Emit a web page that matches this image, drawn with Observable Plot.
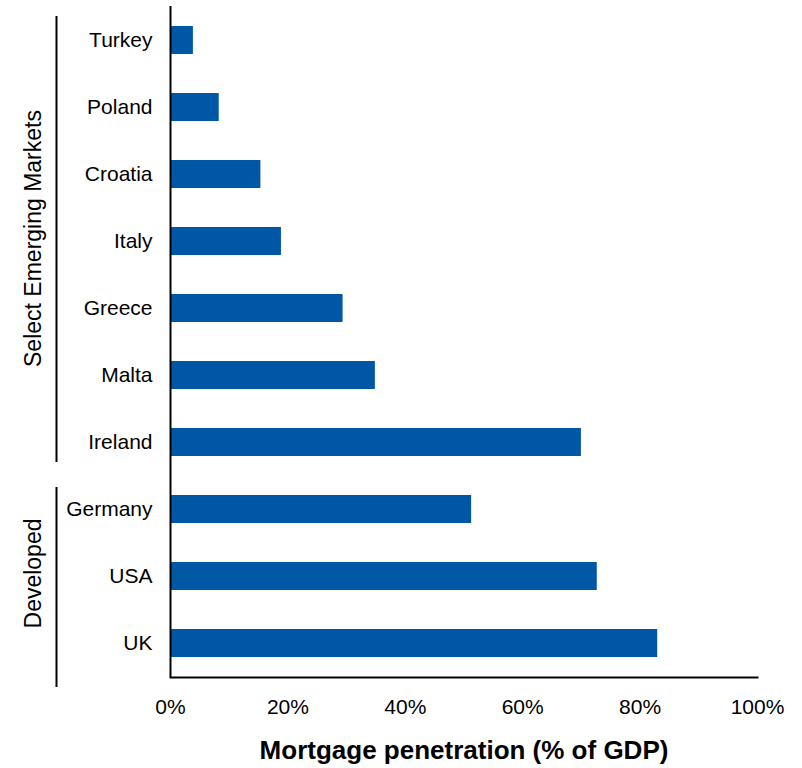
<!DOCTYPE html>
<html>
<head>
<meta charset="utf-8">
<script src="https://cdn.jsdelivr.net/npm/d3@7"></script>
<script src="https://cdn.jsdelivr.net/npm/@observablehq/plot@0.6"></script>
<style>
  body { margin: 0; background: #fff; }
  #chart { width: 802px; }
</style>
</head>
<body>
<div id="chart"></div>
<script>
// Mortgage penetration by country, % of GDP
const countries = ["Turkey", "Poland", "Croatia", "Italy", "Greece", "Malta", "Ireland", "Germany", "USA", "UK"];
const penetration = [3.9, 8.3, 15.4, 18.9, 29.4, 34.9, 70.0, 51.3, 72.7, 83.0];

// Country groupings shown as brackets on the left
const groupNames = ["Select Emerging Markets", "Developed"];
const groupFirst = ["Turkey", "Germany"];
const groupLast = ["Ireland", "UK"];
const groupMid = ["Italy", "USA"];

const xTicks = [0, 20, 40, 60, 80, 100];
const xTitle = "Mortgage penetration (% of GDP)";

const rows = countries.map((c, i) => ({country: c, value: penetration[i]}));
const groups = groupNames.map((g, i) => ({name: g, first: groupFirst[i], last: groupLast[i], mid: groupMid[i]}));

const font = "'Liberation Sans', Arial, Helvetica, sans-serif";

const chart = Plot.plot({
  width: 802,
  height: 768,
  marginLeft: 170,
  marginRight: 45,
  marginTop: 6,
  marginBottom: 91,
  style: {fontFamily: font, fontSize: "21px", color: "#000", background: "#fff"},
  x: {
    domain: [0, 100],
    ticks: xTicks,
    tickFormat: d => d + "%",
    tickSize: 0,
    tickPadding: 22,
    label: null
  },
  y: {
    domain: countries,
    paddingInner: 0.58,
    paddingOuter: 0.29,
    tickSize: 0,
    tickPadding: 18,
    label: null
  },
  marks: [
    Plot.barX(rows, {x: "value", y: "country", fill: "#0057a6"}),
    // axis lines
    Plot.ruleX([0], {stroke: "#000", strokeWidth: 2}),
    Plot.frame({anchor: "bottom", stroke: "#000", strokeWidth: 2}),
    // group brackets
    Plot.ruleX(groups.slice(0, 1), {x: 0, y1: "first", y2: "last", dx: -114, insetTop: -10, insetBottom: -6, stroke: "#000", strokeWidth: 2}),
    Plot.ruleX(groups.slice(1), {x: 0, y1: "first", y2: "last", dx: -114, insetTop: -8, insetBottom: -30, stroke: "#000", strokeWidth: 2}),
    Plot.text(groups, {frameAnchor: "left", y: "mid", text: "name", rotate: -90, dx: -137, dy: -3, textAnchor: "middle", lineAnchor: "middle", fontSize: 23, fill: "#000"}),
    // axis title
    Plot.text([xTitle], {frameAnchor: "bottom", dy: 73, lineAnchor: "middle", fontWeight: "bold", fontSize: 26, fill: "#000"})
  ]
});

document.getElementById("chart").appendChild(chart);
</script>
</body>
</html>
